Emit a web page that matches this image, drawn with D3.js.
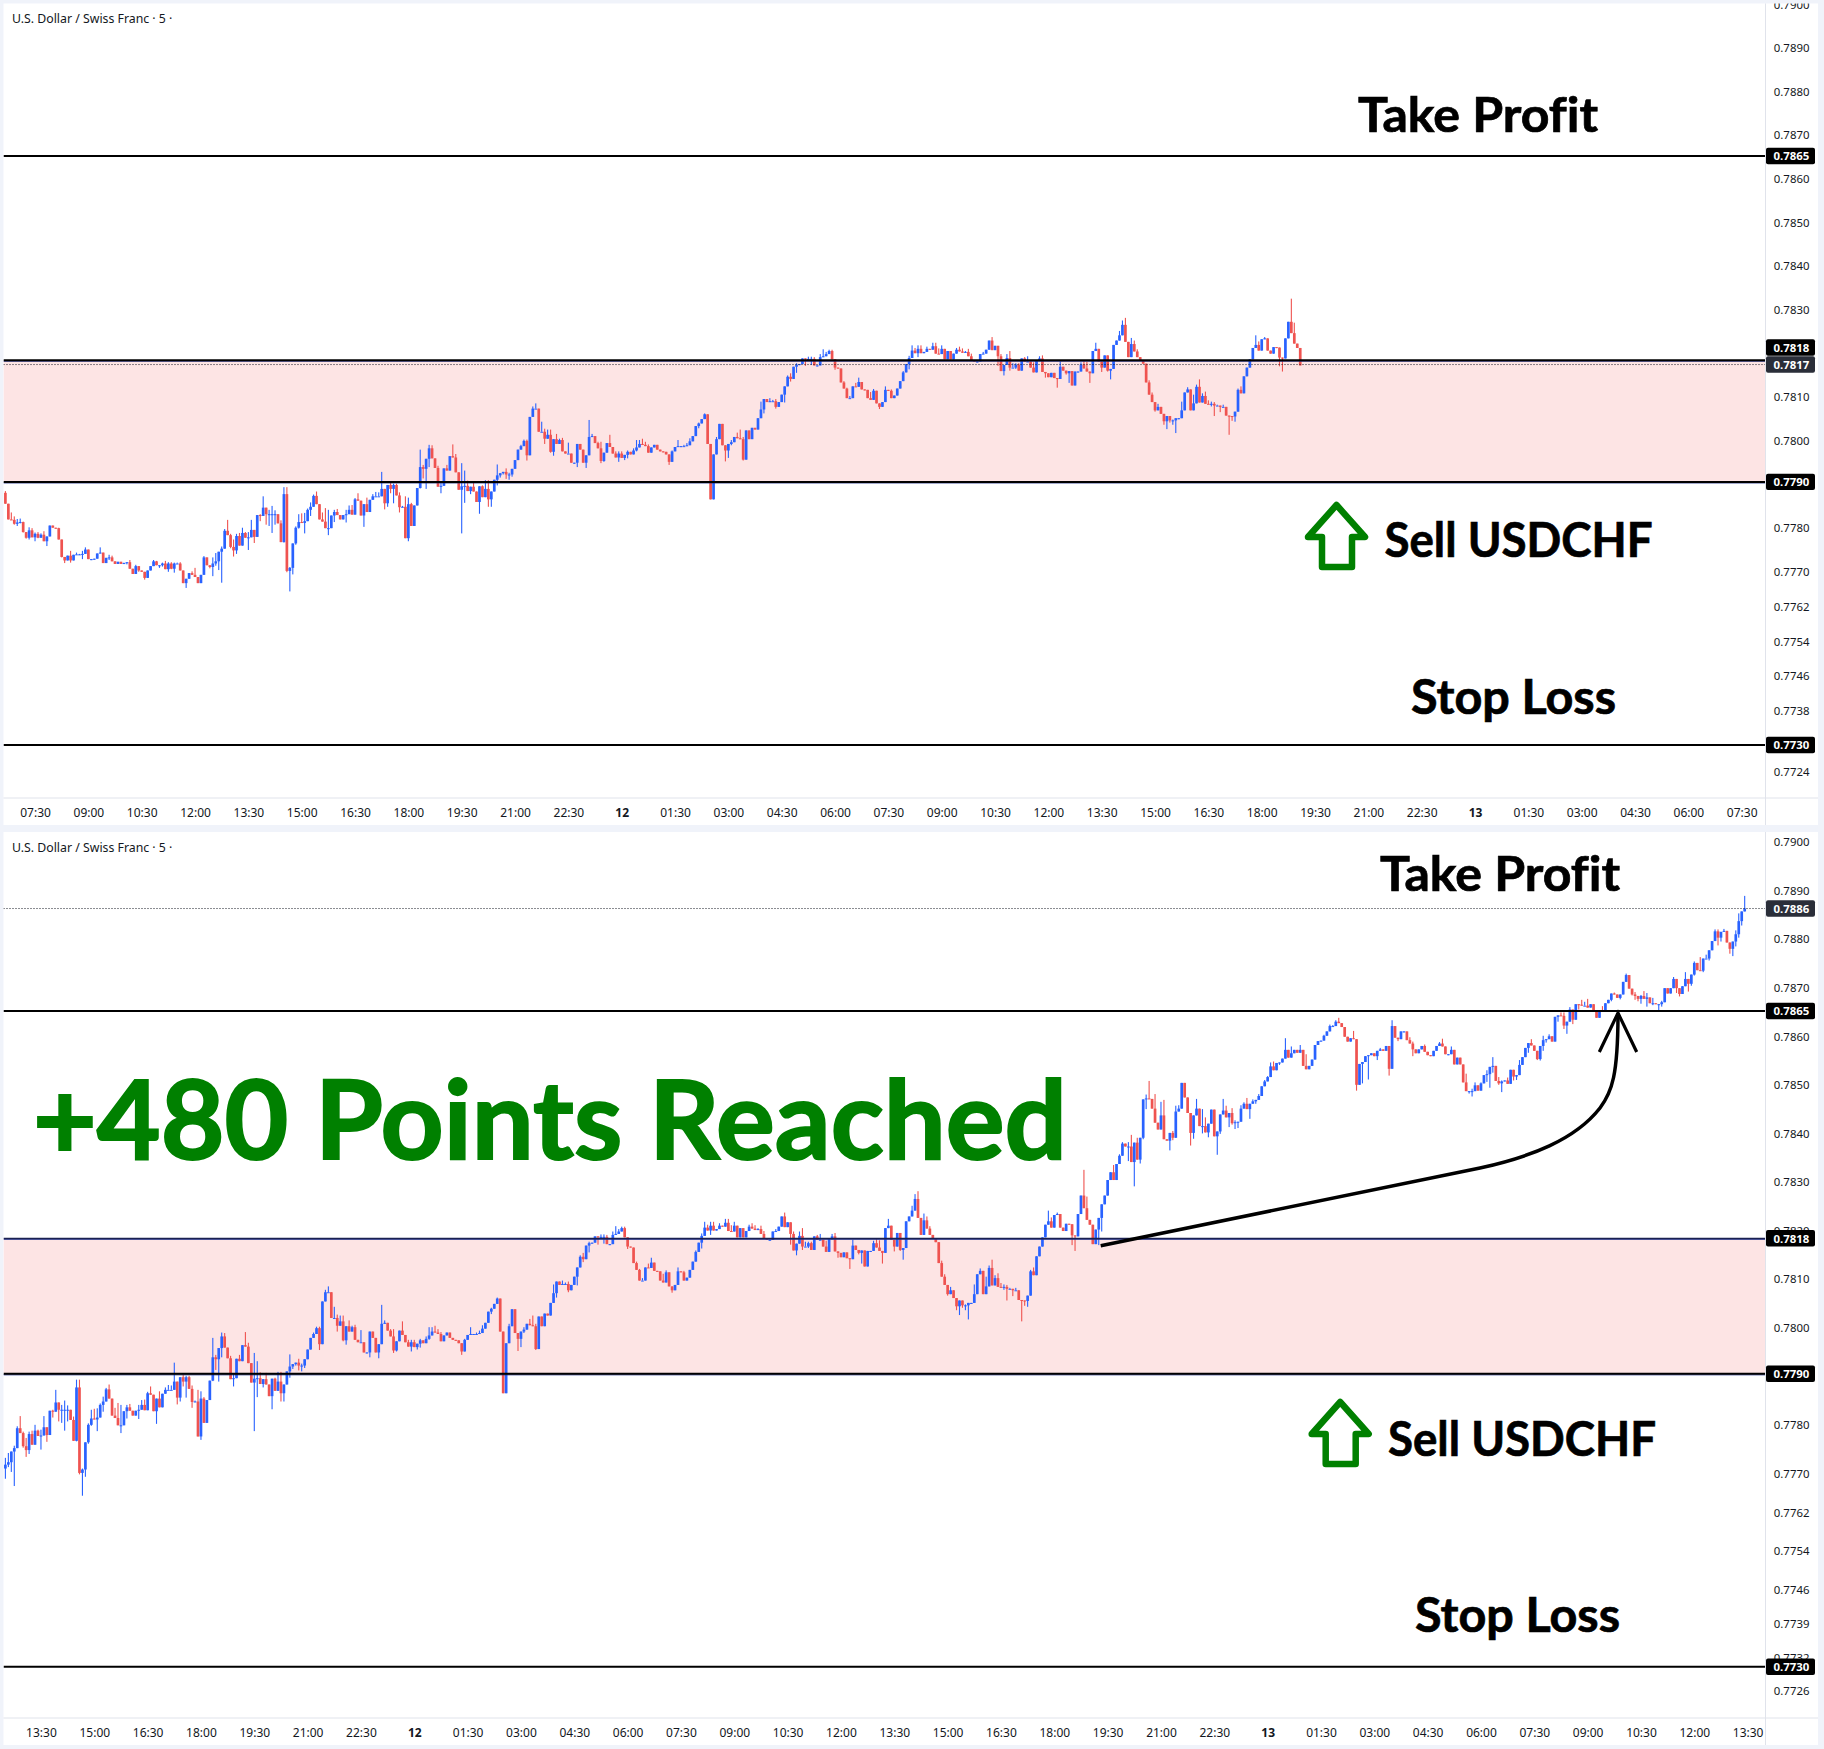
<!DOCTYPE html>
<html><head><meta charset="utf-8">
<script src="https://cdn.jsdelivr.net/npm/d3@7/dist/d3.min.js"></script>
<style>html,body{margin:0;padding:0;background:#f0f3fa}svg{display:block}</style>
</head><body><svg id="c" width="1824" height="1749"></svg>
<script>
// Closing prices in 1/100000 of a franc, one per 5-minute bar.
const firstOpen = 77878;
const closes = [
77853,77817,77816,77807,77810,77811,77788,77775,77792,77776,
77784,77775,77782,77767,77778,77803,77798,77797,77771,77731,
77723,77734,77723,77736,77737,77737,77738,77748,77726,77726,
77727,77739,77741,77717,77729,77730,77721,77715,77720,77715,
77717,77719,77704,77692,77710,77700,77697,77683,77700,77710,
77721,77712,77712,77716,77703,77716,77704,77716,77716,77700,
77671,77681,77694,77690,77685,77671,77690,77730,77712,77708,
77716,77721,77743,77750,77791,77781,77754,77746,77779,77757,
77786,77775,77776,77793,77777,77827,77825,77844,77829,77829,
77829,77829,77808,77765,77875,77699,77706,77762,77798,77811,
77809,77813,77839,77846,77871,77852,77817,77812,77797,77797,
77826,77834,77827,77817,77827,77829,77839,77828,77863,77860,
77826,77852,77834,77862,77870,77870,77870,77887,77854,77896,
77887,77896,77872,77845,77846,77774,77852,77802,77849,77889,
77937,77933,77956,77980,77957,77935,77892,77894,77934,77929,
77962,77959,77925,77885,77893,77894,77882,77892,77881,77857,
77893,77868,77887,77863,77881,77908,77918,77923,77926,77920,
77920,77933,77953,77977,77985,77997,77964,78052,78071,78071,
78018,78018,78002,78011,77972,78001,77990,77999,77973,77968,
77968,77947,77947,77990,77977,77947,77964,78006,78008,77992,
77980,77951,77970,77992,77983,77968,77959,77968,77958,77965,
77972,77966,77975,77982,77990,77988,77985,77970,77982,77988,
77977,77973,77972,77966,77949,77973,77983,77985,77985,77985,77987,
77996,78008,78031,78037,78047,78058,77990,77863,77966,78001,
78036,77987,77975,77990,77994,78006,78003,78001,77954,78021,
78001,78027,78023,78049,78069,78093,78086,78088,78088,78075,
78086,78103,78122,78144,78139,78167,78172,78173,78186,78184,
78185,78185,78170,78170,78189,78191,78196,78203,78184,78165,
78163,78131,78117,78095,78095,78122,78121,78132,78115,78114,
78095,78091,78112,78083,78075,78086,78114,78112,78095,78101,
78117,78134,78154,78173,78187,78204,78198,78208,78198,78201,
78208,78206,78214,78197,78196,78208,78184,78203,78184,78197,
78206,78202,78199,78201,78191,78181,78179,78179,78196,78197,
78206,78227,78205,78215,78191,78157,78171,78187,78165,78165,
78172,78158,78186,78179,78179,78165,78154,78180,78186,78155,
78152,78143,78153,78141,78139,78167,78158,78152,78157,78124,
78156,78156,78172,78163,78156,78152,78203,78208,78179,78165,
78193,78158,78162,78217,78227,78239,78263,78224,78189,78219,
78202,78189,78182,78174,78131,78103,78086,78067,78075,78059,
78042,78054,78044,78044,78049,78049,78067,78108,78115,78067,
78083,78121,78085,78100,78082,78081,78082,78078,78078,78075,
78075,78055,78054,78053,78064,78114,78106,78145,78165,78184,
78210,78217,78204,78230,78232,78204,78197,78212,78211,78188,
78186,78232,78270,78244,78220,78210,78170,78200,78224,78252,
78270,78302,78318,78302,78335,78352,78377,78371,78371,78339,
78379,78344,78389,78468,78470,78469,78449,78420,78406,78435,
78386,78383,78399,78389,78443,78449,78502,78472,78440,78399,
78435,78449,78413,78413,78400,78418,78447,78392,78402,78437,
78445,78431,78440,78419,78421,78422,78449,78459,78448,78459,
78464,78467,78475,78495,78505,78514,78536,78528,78543,78544,
78552,78570,78554,78563,78570,78564,78570,78537,78530,78537,
78550,78580,78588,78589,78599,78608,78619,78619,78628,78625,
78617,78597,78587,78594,78592,78498,78541,78545,78557,78559,
78563,78557,78568,78571,78568,78578,78531,78619,78595,78592,
78608,78608,78590,78583,78571,78563,78571,78578,78566,78559,
78557,78568,78578,78583,78577,78561,78561,78570,78540,78554,
78540,78503,78485,78485,78485,78497,78486,78501,78518,78520,
78535,78537,78506,78501,78505,78507,78500,78529,78515,78518,
78539,78555,78574,78584,78579,78568,78551,78578,78590,78592,
78598,78587,78638,78641,78640,78620,78628,78653,78632,78664,
78663,78661,78661,78657,78664,78649,78636,78652,78649,78666,
78673,78686,78684,78677,78684,78710,78724,78696,78684,78681,
78675,78681,78675,78678,78666,78666,78664,78664,78668,78697,
78686,78697,78716,78697,78685,78701,78716,78706,78725,78749,
78734,78733,78758,78758,78775,78794,78814,78801,78813,78815,
78791,78778,78793,78808,78835,78855,78861];
// Wick length above the body, same unit.
const upperWicks = [
4,0,16,8,8,8,1,0,7,5, 3,4,3,8,0,0,0,0,1,0, 0,0,11,0,4,1,7,5,0,0, 0,0,12,0,0,6,4,0,0,0,
1,0,5,0,3,0,0,0,0,0, 3,1,0,2,6,3,3,2,2,3, 0,0,0,4,16,0,0,3,0,0,
14,19,0,5,4,25,3,17,5,7, 12,2,12,23,0,0,2,26,0,10, 19,9,0,7,16,16,2,0,3,18, 20,19,3,10,3,10,0,16,31,42,
0,5,7,0,0,10,10,11,3,14, 0,0,15,0,5,10,9,39,0,0, 5,3,3,7,2,24,15,3,0,0, 40,5,0,8,7,0,5,10,0,8,
0,27,8,0,53,35,12,0,13,0, 0,2,20,20,0,0,25,0,0,8, 4,0,0,0,3,3,3,0,5,12, 0,23,7,12,12,0,12,3,5,0,
25,0,0,0,0,0,0,39,5,0, 3,15,0,0,19,0,5,5,5,0, 3,0,5,17,9,12,7,4,0,0, 0,0,0,0,0,2,0,14,0,3,5,
7,0,0,2,0,2,0,0,0,5, 0,0,0,0,5,0,10,20,5,0, 0,0,0,0,18,0,0,7,3,5, 0,0,0,3,8,0,3,0,0,0,
5,5,4,0,7,16,5,3,3,0, 0,0,3,2,5,0,8,10,0,0, 0,14,4,0,0,0,8,0,3,0, 0,0,3,0,5,12,6,8,8,0,
5,0,8,8,12,8,0,0,0,0, 4,7,7,2,7,6,0,0,0,4, 0,0,8,0,0,5,0,9,16,10, 3,3,0,3,12,0,12,0,5,7,
0,0,0,0,0,12,0,0,0,0, 0,0,5,8,15,0,0,14,0,0, 0,0,0,0,0,10,10,16,0,14, 8,5,0,0,0,5,5,0,7,0,
0,0,0,2,0,0,20,0,5,0, 20,5,17,6,10,8,5,4,2,0, 5,0,0,0,0,3,8,0,0,0, 0,22,8,0,3,0,0,0,0,0,
0,0,0,53,24,0,0,0,0,0, 0,0,0,15,0,3,3,0,9,24, 0,10,0,0,8,36,0,30,0,28, 32,0,0,4,12,7,0,0,0,0,
0,20,0,35,18,0,0,0,0,0, 24,10,0,10,4,0,7,3,12,0, 4,0,4,0,3,2,8,10,0,0, 0,24,0,14,0,0,10,0,24,0,
0,0,0,0,2,0,3,2,3,8, 0,0,0,0,15,0,0,0,0,0, 0,0,0,3,0,0,0,12,0,0, 0,0,0,6,4,0,0,0,3,0,
0,0,0,3,10,0,0,7,0,0, 0,0,18,0,5,6,0,2,0,8, 0,18,0,8,2,0,6,0,0,0, 10,0,0,0,8,0,0,0,9,0,
4,0,0,0,6,7,0,5,0,0, 0,10,8,14,0,0,0,0,8,0, 0,0,2,0,0,0,3,0,0,5, 0,2,10,9,0,11,0,0,3,0,
0,0,4,0,0,0,14,0,0,3, 0,27,0,8,0,0,4,4,0,4, 0,0,0,8,16,0,26];
// Wick length below the body, same unit.
const lowerWicks = [
0,0,0,2,5,2,1,2,4,0, 9,1,0,0,11,0,0,0,0,1, 6,0,5,0,0,0,11,0,0,0, 0,0,0,0,0,5,0,0,0,0,
0,3,0,0,0,3,0,4,0,0, 0,0,6,3,0,6,1,9,0,0, 0,11,0,0,0,0,0,0,0,3,
21,5,20,71,0,0,3,14,8,0, 0,0,28,0,14,0,12,0,24,27, 43,24,0,0,1,3,47,15,3,2, 0,24,0,14,0,0,0,0,0,16,
0,15,0,0,0,17,0,0,0,0, 0,26,0,0,0,0,0,0,14,8, 10,33,0,12,0,0,7,0,0,0, 1,22,46,19,0,0,0,15,0,0,
0,0,0,0,100,38,0,7,0,0, 27,0,0,17,17,0,13,5,3,10, 12,5,0,0,0,0,12,0,0,0, 0,0,12,0,2,9,0,0,0,0,
0,0,0,10,0,0,12,0,0,0, 0,5,2,0,0,0,0,10,0,5, 8,0,0,2,0,0,0,0,0,0, 0,0,0,0,7,0,0,0,0,0,0,
0,0,0,5,0,0,0,0,0,0, 0,0,25,17,3,0,0,0,2,0, 0,0,0,0,0,9,0,0,0,4, 0,0,18,0,6,0,14,0,0,15,
3,14,0,0,0,0,0,0,0,5, 0,0,0,0,0,0,0,0,0,0, 0,0,0,0,5,0,0,0,0,0, 0,0,0,0,12,0,0,9,0,0,
0,0,0,0,0,0,0,0,0,0, 0,0,0,0,0,0,0,0,0,0, 0,0,0,0,22,0,10,0,7,0, 3,0,0,0,0,0,0,0,0,0,
10,0,0,0,20,0,0,3,22,0, 0,2,0,0,0,22,0,0,0,10, 0,2,20,0,0,0,0,0,0,0, 0,0,0,0,0,0,0,3,0,0,
8,18,5,10,29,0,0,0,0,0, 0,0,0,0,0,0,5,24,0,12, 0,0,43,10,12,0,0,0,0,0, 0,0,0,0,0,0,0,0,0,20,
30,0,0,0,0,0,0,0,32,28, 0,0,0,0,0,0,0,0,30,0, 50,0,8,3,20,0,0,0,0,0, 0,0,20,5,0,0,0,0,0,26,
12,0,0,15,0,10,0,0,38,5, 0,0,20,3,12,12,0,0,0,20, 0,5,0,0,0,0,0,0,0,4, 0,0,0,0,0,0,0,0,0,0,
0,0,0,0,0,0,0,0,0,0, 0,0,0,0,0,12,0,40,0,48, 0,0,8,0,0,0,14,0,0,4, 0,0,0,0,14,0,0,0,0,0,
0,0,0,0,0,0,0,0,0,0, 0,0,0,5,11,0,0,0,0,14, 28,12,0,3,18,0,0,0,8,7, 0,0,0,10,0,0,2,3,10,5,
0,0,0,10,0,7,17,0,9,0, 10,0,0,0,0,0,0,0,0,0, 0,3,0,0,3,0,0,0,2,8, 5,10,0,16,0,4,0,12,5,0,
0,0,0,10,5,0,0,16,4,2, 0,0,3,0,4,0,0,16,8,0, 0,10,15,10,7,9,0];

const topBarCount = 438;      // top pane stops here
const bottomFirstBar = 70;    // bottom pane starts here
const levels = [0.7865, 0.78182, 0.77903, 0.7730];
const levelLabels = ["0.7865", "0.7818", "0.7790", "0.7730"];

const topTickPrices = [0.79,0.789,0.788,0.787,0.786,0.785,0.784,0.783,0.781,0.78,0.778,0.777,0.7762,0.7754,0.7746,0.7738,0.7724];
const topTickLabels = ["0.7900","0.7890","0.7880","0.7870","0.7860","0.7850","0.7840","0.7830","0.7810","0.7800","0.7780","0.7770","0.7762","0.7754","0.7746","0.7738","0.7724"];
const botTickPrices = [0.79,0.789,0.788,0.787,0.786,0.785,0.784,0.783,0.782,0.781,0.78,0.778,0.777,0.7762,0.7754,0.7746,0.7739,0.7732,0.77252];
const botTickLabels = ["0.7900","0.7890","0.7880","0.7870","0.7860","0.7850","0.7840","0.7830","0.7820","0.7810","0.7800","0.7780","0.7770","0.7762","0.7754","0.7746","0.7739","0.7732","0.7726"];
const topTimeLabels = ["07:30","09:00","10:30","12:00","13:30","15:00","16:30","18:00","19:30","21:00","22:30","12","01:30","03:00","04:30","06:00","07:30","09:00","10:30","12:00","13:30","15:00","16:30","18:00","19:30","21:00","22:30","13","01:30","03:00","04:30","06:00","07:30"];
const botTimeLabels = ["13:30","15:00","16:30","18:00","19:30","21:00","22:30","12","01:30","03:00","04:30","06:00","07:30","09:00","10:30","12:00","13:30","15:00","16:30","18:00","19:30","21:00","22:30","13","01:30","03:00","04:30","06:00","07:30","09:00","10:30","12:00","13:30"];
const symbolTitle = "U.S. Dollar / Swiss Franc · 5 ·";

const BLUE = "#2962ff", RED = "#ef5350", INK = "#131722", GRID = "#e0e3eb", ZONE = "#fde4e4", NAVY = "#1a2a80", GREEN = "#008000";
const UI = "'Noto Sans', sans-serif", HEAD = "Lato, sans-serif";
const svg = d3.select("#c");
const plotRight = 1765.5, paneRight = 1818;

const bars = closes.map((c, i) => {
  const o = i ? closes[i - 1] : firstOpen;
  return { i, o: o / 1e5, c: c / 1e5,
    h: (Math.max(o, c) + upperWicks[i]) / 1e5,
    l: (Math.min(o, c) - lowerWicks[i]) / 1e5 };
});

function pane(cfg) {
  const g = svg.append("g");
  const id = cfg.id;
  g.append("rect").attr("x", 3.5).attr("y", cfg.top).attr("width", paneRight - 3.5).attr("height", cfg.bottom - cfg.top).attr("fill", "#fff");
  const clip = svg.append("clipPath").attr("id", id);
  clip.append("rect").attr("x", 3.5).attr("y", cfg.top).attr("width", plotRight - 3.5).attr("height", cfg.axisY - cfg.top);
  const clipA = svg.append("clipPath").attr("id", id + "a");
  clipA.append("rect").attr("x", plotRight).attr("y", cfg.top).attr("width", paneRight - plotRight).attr("height", cfg.axisY - cfg.top);

  const y = d3.scaleLinear().domain([0.7865, 0.7730]).range(cfg.yRange);
  const x = d3.scaleLinear().domain([cfg.firstBar, cfg.firstBar + 586]).range([5.4, 5.4 + 586 * 2.963]);
  const plot = g.append("g").attr("clip-path", `url(#${id})`);

  plot.append("rect").attr("x", 3.5).attr("width", plotRight - 3.5)
    .attr("y", y(levels[1])).attr("height", y(levels[2]) - y(levels[1])).attr("fill", ZONE);

  const data = bars.filter(b => b.i >= cfg.firstBar && b.i < cfg.lastBar);
  const col = d => d.c >= d.o ? BLUE : RED;
  plot.append("g").selectAll("rect").data(data).join("rect")
    .attr("x", d => x(d.i) - 0.55).attr("width", 1.1)
    .attr("y", d => y(d.h)).attr("height", d => Math.max(1, y(d.l) - y(d.h))).attr("fill", col);
  plot.append("g").selectAll("rect").data(data).join("rect")
    .attr("x", d => x(d.i) - 1.35).attr("width", 2.7)
    .attr("y", d => y(Math.max(d.o, d.c))).attr("height", d => Math.max(1, Math.abs(y(d.o) - y(d.c)))).attr("fill", col);

  // zone border sits just under the drawn level lines
  [levels[1], levels[2]].forEach(v => plot.append("line").attr("x1", 3.5).attr("x2", plotRight)
    .attr("y1", y(v) + 1).attr("y2", y(v) + 1).attr("stroke", NAVY).attr("stroke-width", 1));
  plot.append("g").selectAll("line").data(levels).join("line")
    .attr("x1", 3.5).attr("x2", plotRight).attr("y1", d => y(d)).attr("y2", d => y(d))
    .attr("stroke", (d, i) => cfg.thin && i === 1 ? "#1a2050" : "#000").attr("stroke-width", (d, i) => cfg.thin && i === 1 ? 1.2 : 2);
  plot.append("line").attr("x1", 3.5).attr("x2", plotRight)
    .attr("y1", y(cfg.dot)).attr("y2", y(cfg.dot))
    .attr("stroke", INK).attr("stroke-width", 1).attr("stroke-dasharray", "1 2");

  // frame lines
  g.append("line").attr("x1", plotRight).attr("x2", plotRight).attr("y1", cfg.top).attr("y2", cfg.bottom).attr("stroke", GRID);
  g.append("line").attr("x1", 3.5).attr("x2", paneRight).attr("y1", cfg.axisY).attr("y2", cfg.axisY).attr("stroke", GRID);

  // axes
  const yAxis = d3.axisRight(y).tickValues(cfg.prices).tickFormat((d, i) => cfg.priceLabels[i]).tickSize(0).tickPadding(8.3);
  const ya = g.append("g").attr("clip-path", `url(#${id}a)`).append("g").attr("transform", `translate(${plotRight},0)`).call(yAxis);
  ya.select(".domain").remove();
  ya.selectAll("text").attr("fill", INK).attr("font-family", UI).attr("font-size", 11.4).attr("dy", "0.42em");

  const tickIdx = cfg.timeLabels.map((_, k) => cfg.firstTick + 18 * k);
  const xAxis = d3.axisBottom(x).tickValues(tickIdx).tickFormat((d, k) => cfg.timeLabels[k]).tickSize(0).tickPadding(10);
  const xa = g.append("g").attr("transform", `translate(0,${cfg.axisY})`).call(xAxis);
  xa.select(".domain").remove();
  xa.selectAll("text").attr("fill", INK).attr("font-family", UI).attr("font-size", 12)
    .attr("font-weight", (d, k) => cfg.timeLabels[k].length === 2 ? 700 : 400);

  // price tags
  const tag = (price, label, fill, yc) => {
    const cy = yc === undefined ? y(price) : yc;
    g.append("rect").attr("x", plotRight + 0.5).attr("y", cy - 8.2).attr("width", 49).attr("height", 16.4).attr("rx", 2).attr("fill", fill);
    g.append("text").attr("x", plotRight + 8).attr("y", cy + 4.2).attr("fill", "#fff").attr("font-family", UI)
      .attr("font-size", 11.4).attr("font-weight", 700).text(label);
  };
  cfg.tags.forEach(t => tag(t.price, t.label, t.fill, t.yc));

  g.append("text").attr("x", 12).attr("y", cfg.top + 19.5).attr("fill", INK).attr("font-family", UI).attr("font-size", 12.3).text(symbolTitle);
}

pane({ id: "p1", top: 3.5, bottom: 825, axisY: 798, yRange: [156, 745], firstBar: 0, lastBar: topBarCount, firstTick: 10,
  prices: topTickPrices, priceLabels: topTickLabels, timeLabels: topTimeLabels, dot: 0.78172,
  tags: [
    { price: levels[0], label: levelLabels[0], fill: "#000" },
    { price: levels[1], label: levelLabels[1], fill: "#000", yc: 347.5 },
    { price: 0.78172, label: "0.7817", fill: "#2a2e39", yc: 364.5 },
    { price: levels[2], label: levelLabels[2], fill: "#000" },
    { price: levels[3], label: levelLabels[3], fill: "#000" }
  ] });
pane({ id: "p2", top: 832, bottom: 1745, axisY: 1718, yRange: [1011, 1666.7], firstBar: bottomFirstBar, lastBar: closes.length, firstTick: 82, thin: true,
  prices: botTickPrices, priceLabels: botTickLabels, timeLabels: botTimeLabels, dot: 0.78861,
  tags: [
    { price: 0.78861, label: "0.7886", fill: "#2a2e39" },
    { price: levels[0], label: levelLabels[0], fill: "#000" },
    { price: levels[1], label: levelLabels[1], fill: "#000" },
    { price: levels[2], label: levelLabels[2], fill: "#000" },
    { price: levels[3], label: levelLabels[3], fill: "#000" }
  ] });

// Hand-drawn annotations
const notes = [
  ["Take Profit", 1358, 131.5, 240, 47, "#000", 0.7],
  ["Stop Loss", 1411, 713.5, 205, 47, "#000", 0.7],
  ["Sell USDCHF", 1384.5, 557, 268, 47, "#000", 0.7],
  ["Take Profit", 1380, 891, 240, 47, "#000", 0.7],
  ["Stop Loss", 1415, 1632, 205, 47, "#000", 0.7],
  ["Sell USDCHF", 1388, 1455.5, 268, 47, "#000", 0.7],
  ["+480 Points Reached", 33, 1158.5, 1034, 110, GREEN, 2]
];
svg.append("g").selectAll("text").data(notes).join("text")
  .attr("x", d => d[1]).attr("y", d => d[2]).attr("textLength", d => d[3]).attr("lengthAdjust", "spacingAndGlyphs")
  .attr("font-family", HEAD).attr("font-weight", 700).attr("font-size", d => d[4]).attr("fill", d => d[5])
  .attr("stroke", d => d[5]).attr("stroke-width", d => d[6]).style("font-variant-ligatures", "none").text(d => d[0]);

const upArrow = "M1336.5,505 L1365,537 L1352,537 L1352,567 L1322,567 L1322,537 L1308,537 Z";
svg.append("path").attr("d", upArrow).attr("fill", "none").attr("stroke", GREEN).attr("stroke-width", 6.5).attr("stroke-linejoin", "round");
svg.append("path").attr("d", upArrow).attr("transform", "translate(3.7,897)").attr("fill", "none").attr("stroke", GREEN).attr("stroke-width", 6.5).attr("stroke-linejoin", "round");

svg.append("path").attr("d", "M1100.7,1245.7 L1480,1168 C1530,1157 1575,1140 1600,1108 C1612,1092 1618,1075 1618,1013")
  .attr("fill", "none").attr("stroke", "#000").attr("stroke-width", 3.5);
svg.append("path").attr("d", "M1599.3,1052 L1618,1013 L1636.7,1052")
  .attr("fill", "none").attr("stroke", "#000").attr("stroke-width", 3.2);
</script></body></html>
